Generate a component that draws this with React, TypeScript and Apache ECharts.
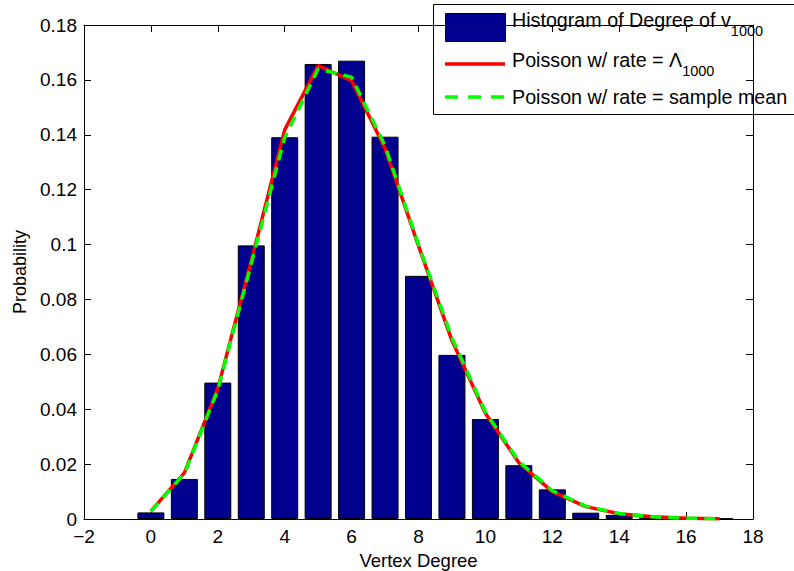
import React, { useEffect, useRef } from "react";
import * as echarts from "echarts";

const degrees = [0, 1, 2, 3, 4, 5, 6, 7, 8, 9, 10, 11, 12, 13, 14, 15, 16, 17];
const histogram = [0.0024, 0.0146, 0.0497, 0.0997, 0.1391, 0.1658, 0.167, 0.1393, 0.0886, 0.0598, 0.0364, 0.0196, 0.0108, 0.0023, 0.0015, 0.0006, 0.0003, 0.0002];
const poissonLambda = [0.0029, 0.0168, 0.0475, 0.094, 0.1418, 0.1652, 0.1597, 0.135, 0.0995, 0.065, 0.0385, 0.0205, 0.01, 0.0045, 0.0019, 0.0008, 0.0003, 0.0001];
const poissonMean = [0.0028, 0.0165, 0.047, 0.093, 0.139, 0.164, 0.161, 0.136, 0.1, 0.066, 0.039, 0.021, 0.0103, 0.0047, 0.002, 0.0008, 0.0003, 0.0001];

const xMin = -2, xMax = 18, xStep = 2;
const yMin = 0, yMax = 0.18, yStep = 0.02;

const FONT = "'Liberation Sans', Arial, Helvetica, sans-serif";

export default function App() {
  const ref = useRef<HTMLDivElement>(null);
  useEffect(() => {
    if (!ref.current) return;
    const chart = echarts.init(ref.current, null, { renderer: "svg" });
    const axisLine = { show: true, onZero: false, lineStyle: { color: "#000", width: 1 } };
    const tick = { show: true, inside: true, length: 7, lineStyle: { color: "#000" } };
    const label = { color: "#000", fontSize: 19, fontFamily: FONT };
    const richSub = {
      a: { fontSize: 19.7, fontFamily: FONT, lineHeight: 24, verticalAlign: "top", fill: "#000" },
      s: { fontSize: 14.5, fontFamily: FONT, lineHeight: 16, padding: [13, 0, 0, 0], verticalAlign: "top", fill: "#000" },
    };
    chart.setOption({
      animation: false,
      backgroundColor: "#fff",
      grid: { left: 84, right: 41, top: 25, bottom: 52, show: false, containLabel: false, outerBoundsMode: "none" },
      xAxis: [
        {
          type: "value", min: xMin, max: xMax, interval: xStep, position: "bottom",
          axisLine, axisTick: tick, splitLine: { show: false },
          axisLabel: { ...label, margin: 8, formatter: (v: number) => (v < 0 ? "\u2212" + Math.abs(v) : String(v)) },
          name: "Vertex Degree", nameLocation: "middle", nameGap: 31,
          nameTextStyle: { color: "#000", fontSize: 18.5, fontFamily: FONT },
        },
        {
          type: "value", min: xMin, max: xMax, interval: xStep, position: "top",
          axisLine, axisTick: tick, splitLine: { show: false }, axisLabel: { show: false },
        },
      ],
      yAxis: [
        {
          type: "value", min: yMin, max: yMax, interval: yStep, position: "left",
          axisLine, axisTick: tick, splitLine: { show: false },
          axisLabel: { ...label, margin: 7, formatter: (v: number) => String(Math.round(v * 100) / 100) },
          name: "Probability", nameLocation: "middle", nameGap: 53, nameRotate: 90,
          nameTextStyle: { color: "#000", fontSize: 18, fontFamily: FONT },
        },
        {
          type: "value", min: yMin, max: yMax, interval: yStep, position: "right",
          axisLine, axisTick: tick, splitLine: { show: false }, axisLabel: { show: false },
        },
      ],
      series: [
        {
          type: "bar", xAxisIndex: 0, yAxisIndex: 0, barWidth: 27,
          data: degrees.map((d, i) => [d, histogram[i]]),
          itemStyle: { color: "#00008F", borderColor: "#000", borderWidth: 1 },
          z: 2,
        },
        {
          type: "line", xAxisIndex: 0, yAxisIndex: 0, showSymbol: false, symbol: "none",
          data: degrees.map((d, i) => [d, poissonLambda[i]]),
          lineStyle: { color: "#FF0000", width: 3.5 },
          z: 3,
        },
        {
          type: "line", xAxisIndex: 0, yAxisIndex: 0, showSymbol: false, symbol: "none",
          data: degrees.map((d, i) => [d, poissonMean[i]]),
          lineStyle: { color: "#00FF00", width: 3.5, type: [11, 7] },
          z: 4,
        },
      ],
      graphic: [
        {
          type: "group", z: 100, children: [
            { type: "rect", shape: { x: 433.5, y: 4.5, width: 400, height: 110 }, style: { fill: "#fff", stroke: "#000", lineWidth: 1 } },
            { type: "rect", shape: { x: 445.5, y: 13.5, width: 60, height: 28 }, style: { fill: "#00008F", stroke: "#000", lineWidth: 1 } },
            { type: "line", shape: { x1: 445, y1: 64, x2: 505, y2: 64 }, style: { stroke: "#FF0000", lineWidth: 3.5 } },
            { type: "line", shape: { x1: 445, y1: 97, x2: 505, y2: 97 }, style: { stroke: "#00FF00", lineWidth: 3.5, lineDash: [13, 10] } },
            {
              type: "text", x: 512, y: 10,
              style: { text: "{a|Histogram of Degree of v}{s|1000}", fill: "#000", rich: richSub },
            },
            {
              type: "text", x: 512, y: 50,
              style: { text: "{a|Poisson w/ rate = \u039B}{s|1000}", fill: "#000", rich: richSub },
            },
            {
              type: "text", x: 512, y: 87,
              style: { text: "Poisson w/ rate = sample mean", fill: "#000", fontSize: 19.7, fontFamily: FONT },
            },
          ],
        },
      ],
    });
    return () => chart.dispose();
  }, []);
  return <div ref={ref} style={{ width: 794, height: 571, position: "absolute", left: 0, top: 0 }} />;
}
